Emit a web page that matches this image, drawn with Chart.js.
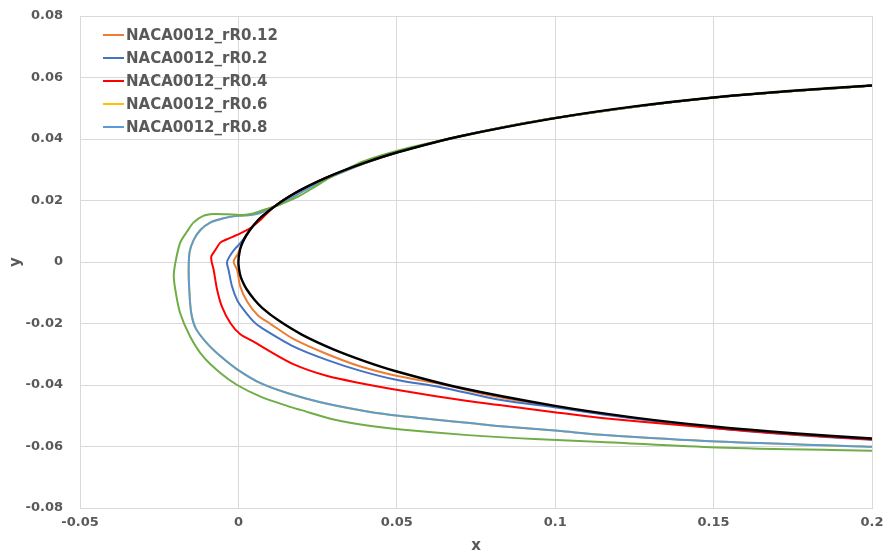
<!DOCTYPE html>
<html lang="en">
<head>
    <meta charset="UTF-8">
    <title>NACA0012 ice shapes</title>
    <script src="https://cdn.jsdelivr.net/npm/chart.js@4/dist/chart.umd.min.js"></script>
    <style>
        body {
            margin: 0;
            background: #ffffff;
        }
    </style>
</head>
<body>
    <canvas id="shapeCanvas" width="887" height="559"></canvas>
    <script>
        // axis ticks
        const xTicks = ['-0.05', '0', '0.05', '0.1', '0.15', '0.2'];
        const yTicks = ['-0.08', '-0.06', '-0.04', '-0.02', '0', '0.02', '0.04', '0.06', '0.08'];

        // clean airfoil contour, upper surface -> leading edge -> lower surface
        const clean = [
            [0.2, 0.0574], [0.175, 0.0557], [0.15, 0.0535], [0.125, 0.0506], [0.1, 0.0468],
            [0.07, 0.0409], [0.05, 0.0356], [0.04, 0.0323], [0.03, 0.0284], [0.02, 0.0236],
            [0.0125, 0.0189], [0.0075, 0.0149], [0.005, 0.0122], [0.0025, 0.0087], [0.00125, 0.0062],
            [0.0005, 0.004], [0, 0], [0.0005, -0.004], [0.00125, -0.0062], [0.0025, -0.0087],
            [0.005, -0.0122], [0.0075, -0.0149], [0.0125, -0.0189], [0.02, -0.0236], [0.03, -0.0284],
            [0.04, -0.0323], [0.05, -0.0356], [0.07, -0.0409], [0.1, -0.0468], [0.125, -0.0506],
            [0.15, -0.0535], [0.175, -0.0557], [0.2, -0.0574]
        ];

        const rR012 = [
            [0.2, 0.0574], [0.15, 0.0535], [0.1, 0.0468], [0.07, 0.0409], [0.05, 0.0356],
            [0.03, 0.0284], [0.02, 0.0236], [0.0125, 0.0189], [0.005, 0.0122], [0.0012, 0.0062],
            [0.0004, 0.0039], [-0.0004, 0.0023], [-0.0015, 0.0001], [-0.0004, -0.0026], [0.0006, -0.008],
            [0.0028, -0.0129], [0.0062, -0.0174], [0.0101, -0.0201], [0.0175, -0.0251], [0.0281, -0.03],
            [0.0386, -0.034], [0.0502, -0.0371], [0.0639, -0.0397], [0.08, -0.0435], [0.1, -0.047],
            [0.125, -0.0508], [0.15, -0.0537], [0.175, -0.0559], [0.2, -0.0576]
        ];

        const rR02 = [
            [0.2, 0.0574], [0.15, 0.0535], [0.1, 0.0468], [0.07, 0.0409], [0.05, 0.0356],
            [0.03, 0.0284], [0.02, 0.0236], [0.0125, 0.0189], [0.005, 0.0122], [0.0025, 0.0087],
            [0.0006, 0.0061], [-0.0009, 0.0045], [-0.0025, 0.0023], [-0.0036, -0.0001], [-0.0031, -0.0026],
            [-0.002, -0.008], [-0.0004, -0.0124], [0.0017, -0.0156], [0.0048, -0.0194], [0.007, -0.0212],
            [0.0175, -0.0275], [0.0281, -0.0319], [0.0386, -0.0354], [0.0502, -0.0384], [0.0639, -0.0407],
            [0.0829, -0.0449], [0.1009, -0.0474], [0.1146, -0.0495], [0.15, -0.054], [0.175, -0.0562],
            [0.2, -0.0578]
        ];

        const rR04 = [
            [0.2, 0.0574], [0.15, 0.0535], [0.1, 0.0468], [0.07, 0.0409], [0.05, 0.0356],
            [0.03, 0.0284], [0.02, 0.0236], [0.0125, 0.0189], [0.0101, 0.0169], [0.007, 0.0137],
            [0.0038, 0.011], [0.0017, 0.0099], [-0.0004, 0.0088], [-0.0036, 0.0074], [-0.0057, 0.0063],
            [-0.0073, 0.0039], [-0.0086, 0.0015], [-0.0078, -0.0026], [-0.0067, -0.0091], [-0.0052, -0.0145],
            [-0.0025, -0.0199], [0.0006, -0.0235], [0.0048, -0.0259], [0.0085, -0.0282], [0.0175, -0.0333],
            [0.0281, -0.0371], [0.0386, -0.0394], [0.0513, -0.0418], [0.0724, -0.0452], [0.0829, -0.0466],
            [0.1009, -0.049], [0.1146, -0.0507], [0.14, -0.0531], [0.17, -0.0557], [0.2, -0.0577]
        ];

        const rR06 = [
            [0.2, 0.0574], [0.15, 0.0535], [0.1, 0.0468], [0.07, 0.0409], [0.05, 0.0356],
            [0.04, 0.0322], [0.03, 0.028], [0.025, 0.0256], [0.02, 0.0228], [0.0134, 0.0188],
            [0.0101, 0.0176], [0.007, 0.016], [0.0038, 0.0153], [-0.0004, 0.015], [-0.0047, 0.0142],
            [-0.0089, 0.0128], [-0.012, 0.0104], [-0.0141, 0.0072], [-0.0154, 0.0033], [-0.0157, -0.0026],
            [-0.0155, -0.0091], [-0.0149, -0.0165], [-0.0135, -0.0215], [-0.0101, -0.0262], [-0.0057, -0.0306],
            [-0.0004, -0.0349], [0.007, -0.0394], [0.0154, -0.0426], [0.0259, -0.0456], [0.0407, -0.0486],
            [0.0513, -0.0501], [0.0724, -0.0523], [0.0829, -0.0534], [0.1009, -0.0549], [0.1146, -0.0562],
            [0.151, -0.0584], [0.2, -0.0601]
        ];

        const rR08 = [
            [0.2, 0.0574], [0.15, 0.0535], [0.1, 0.0468], [0.07, 0.0409], [0.05, 0.0356],
            [0.04, 0.0322], [0.03, 0.028], [0.025, 0.0256], [0.02, 0.0228], [0.0134, 0.0188],
            [0.0101, 0.0176], [0.007, 0.016], [0.0038, 0.0153], [-0.0004, 0.015], [-0.0047, 0.0142],
            [-0.0089, 0.0128], [-0.012, 0.0104], [-0.0141, 0.0072], [-0.0154, 0.0033], [-0.0157, -0.0026],
            [-0.0155, -0.0091], [-0.0149, -0.0165], [-0.0135, -0.0215], [-0.0101, -0.0262], [-0.0057, -0.0306],
            [-0.0004, -0.0349], [0.007, -0.0394], [0.0154, -0.0426], [0.0259, -0.0456], [0.0407, -0.0486],
            [0.0513, -0.0501], [0.0724, -0.0523], [0.0829, -0.0534], [0.1009, -0.0549], [0.1146, -0.0562],
            [0.151, -0.0584], [0.2, -0.0601]
        ];

        const rR10 = [
            [0.2, 0.0574], [0.15, 0.0535], [0.1, 0.0468], [0.0608, 0.0388], [0.0502, 0.0362],
            [0.0396, 0.0328], [0.0344, 0.0303], [0.0291, 0.0276], [0.025, 0.025], [0.0187, 0.0212],
            [0.0111, 0.0179], [0.0079, 0.0169], [0.0038, 0.0156], [0.0006, 0.0153], [-0.0036, 0.0155],
            [-0.0079, 0.0156], [-0.0111, 0.015], [-0.0142, 0.0128], [-0.0162, 0.0099], [-0.0184, 0.0062],
            [-0.0199, -0.0003], [-0.0204, -0.0045], [-0.0199, -0.0091], [-0.0184, -0.0166], [-0.0152, -0.0243],
            [-0.0111, -0.0308], [-0.0057, -0.0361], [-0.0004, -0.04], [0.007, -0.0438], [0.0154, -0.0468],
            [0.0196, -0.0481], [0.0301, -0.0512], [0.0407, -0.0532], [0.0513, -0.0545], [0.0724, -0.0563],
            [0.0934, -0.0576], [0.1146, -0.0585], [0.151, -0.0603], [0.2, -0.0614]
        ];

        const legendNames = ['NACA0012_rR0.12', 'NACA0012_rR0.2', 'NACA0012_rR0.4', 'NACA0012_rR0.6', 'NACA0012_rR0.8'];

        const toPoints = arr => arr.map(p => ({ x: p[0], y: p[1] }));

        function series(label, data, color, order, width) {
            return {
                label: label,
                data: toPoints(data),
                borderColor: color,
                backgroundColor: color,
                borderWidth: width || 2,
                showLine: true,
                pointRadius: 0,
                tension: 0.3,
                fill: false,
                order: order
            };
        }

        const textGrey = '#595959';
        const gridGrey = '#d9d9d9';

        // legend drawn inside the plot, top-left
        const insideLegend = {
            id: 'insideLegend',
            afterDraw(chart) {
                const { ctx, chartArea } = chart;
                ctx.save();
                ctx.font = 'bold 15px "DejaVu Sans"';
                ctx.textBaseline = 'middle';
                legendNames.forEach((name, i) => {
                    const ds = chart.data.datasets.find(d => d.label === name);
                    const x = chartArea.left + 23;
                    const y = chartArea.top + 19 + i * 23;
                    ctx.strokeStyle = ds.borderColor;
                    ctx.lineWidth = 2;
                    ctx.beginPath();
                    ctx.moveTo(x, y);
                    ctx.lineTo(x + 21, y);
                    ctx.stroke();
                    ctx.fillStyle = textGrey;
                    ctx.fillText(name, x + 23, y + 1);
                });
                ctx.restore();
            }
        };

        const ctx = document.getElementById('shapeCanvas').getContext('2d');
        new Chart(ctx, {
            type: 'scatter',
            data: {
                datasets: [
                    series('NACA0012_rR0.12', rR012, '#ED7D31', 7),
                    series('NACA0012_rR0.2', rR02, '#4472C4', 6),
                    series('NACA0012_rR0.4', rR04, '#FF0000', 5),
                    series('NACA0012_rR0.6', rR06, '#FFC000', 4),
                    series('NACA0012_rR0.8', rR08, '#5B9BD5', 3),
                    series('NACA0012_rR1.0', rR10, '#70AD47', 2),
                    series('NACA0012', clean, '#000000', 1, 2.4)
                ]
            },
            options: {
                responsive: false,
                animation: false,
                layout: {
                    padding: { top: 16, right: 15, left: 0, bottom: 0 }
                },
                plugins: {
                    legend: { display: false },
                    tooltip: { enabled: false }
                },
                scales: {
                    x: {
                        type: 'linear',
                        min: -0.05,
                        max: 0.2,
                        afterFit: scale => {
                            scale.height = 51;
                            scale.paddingLeft = 0;
                            scale.paddingRight = 0;
                        },
                        ticks: {
                            stepSize: 0.05,
                            padding: 7,
                            color: textGrey,
                            font: { family: 'DejaVu Sans', size: 13, weight: 'bold' },
                            callback: (v, i) => xTicks[i]
                        },
                        grid: { color: gridGrey, drawTicks: false },
                        border: { color: gridGrey },
                        title: {
                            display: true,
                            text: 'x',
                            color: textGrey,
                            padding: { top: 0, bottom: 4 },
                            font: { family: 'DejaVu Sans', size: 15, weight: 'bold' }
                        }
                    },
                    y: {
                        type: 'linear',
                        min: -0.08,
                        max: 0.08,
                        afterFit: scale => {
                            scale.width = 80;
                            scale.paddingTop = 0;
                            scale.paddingBottom = 0;
                        },
                        ticks: {
                            stepSize: 0.02,
                            padding: 17,
                            color: textGrey,
                            font: { family: 'DejaVu Sans', size: 13, weight: 'bold' },
                            callback: (v, i) => yTicks[i]
                        },
                        grid: { color: gridGrey, drawTicks: false },
                        border: { color: gridGrey },
                        title: {
                            display: true,
                            text: 'y',
                            color: textGrey,
                            padding: { top: 7, bottom: 0 },
                            font: { family: 'DejaVu Sans', size: 15, weight: 'bold' }
                        }
                    }
                }
            },
            plugins: [insideLegend]
        });
    </script>
</body>
</html>
